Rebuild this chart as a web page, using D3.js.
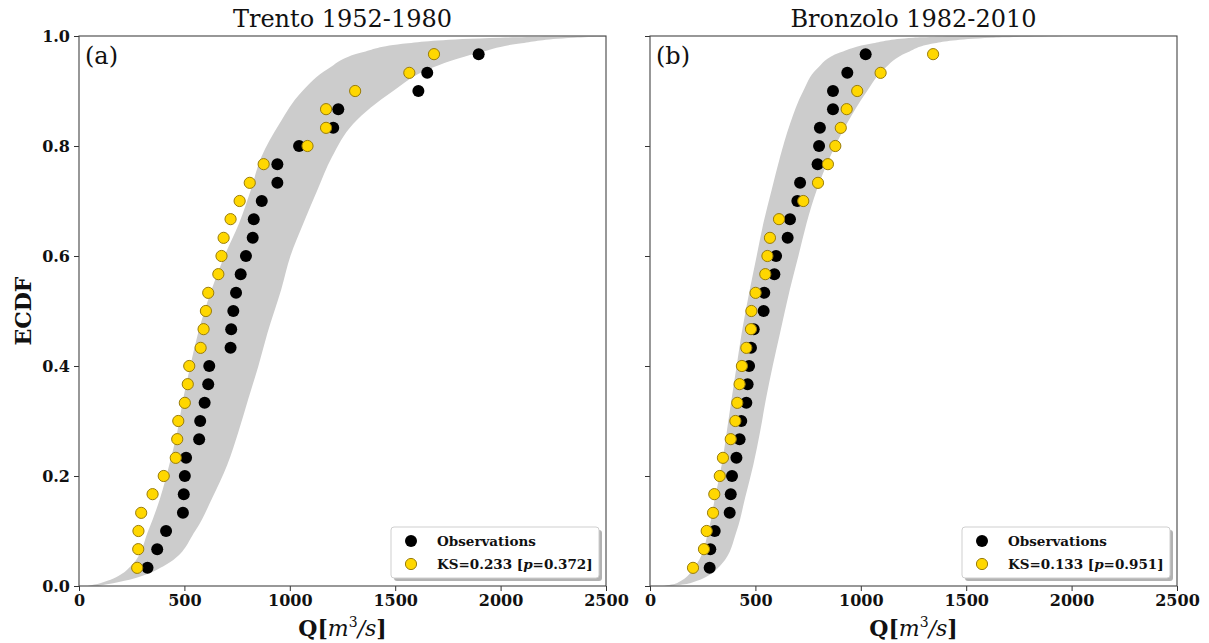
<!DOCTYPE html>
<html lang="en">
<head>
<meta charset="utf-8">
<title>ECDF Trento / Bronzolo</title>
<script src="https://d3js.org/d3.v7.min.js"></script>
<style>
  body { margin: 0; background: #fff; }
  svg text { font-family: "DejaVu Serif", serif; fill: #111; }
</style>
</head>
<body>
<svg id="chart" width="1209" height="643"></svg>
<script>
// ECDF plotting positions
const ecdfLevels = [0.033, 0.067, 0.100, 0.133, 0.167, 0.200, 0.233, 0.267, 0.300, 0.333,
  0.367, 0.400, 0.433, 0.467, 0.500, 0.533, 0.567, 0.600, 0.633, 0.667,
  0.700, 0.733, 0.767, 0.800, 0.833, 0.867, 0.900, 0.933, 0.967];

// panel (a) Trento 1952-1980
const trentoObs = [325, 371, 413, 493, 497, 502, 508, 570, 575, 596, 613, 618, 719, 722, 732,
  745, 767, 792, 824, 829, 867, 941, 941, 1044, 1206, 1230, 1610, 1652, 1896];
const trentoSim = [276, 281, 282, 295, 349, 402, 459, 466, 471, 502, 516, 523, 577, 591, 602,
  613, 661, 676, 686, 719, 762, 810, 876, 1084, 1172, 1172, 1310, 1567, 1684];

// panel (b) Bronzolo 1982-2010
const bronzoloObs = [283, 286, 307, 378, 383, 389, 410, 425, 433, 457, 463, 470, 479, 492, 539,
  542, 590, 598, 653, 664, 699, 712, 795, 802, 806, 868, 868, 936, 1023];
const bronzoloSim = [204, 256, 269, 299, 305, 331, 346, 383, 405, 414, 425, 436, 457, 479, 481,
  501, 547, 557, 569, 612, 727, 797, 844, 879, 905, 933, 983, 1094, 1343];

// grey band edges (Q at given cdf level)
const bandLevels = [0, 0.005, 0.04, 0.1, 0.16, 0.22, 0.28, 0.34, 0.4, 0.46, 0.54, 0.6,
  0.66, 0.72, 0.78, 0.84, 0.9, 0.94, 0.97, 0.987, 0.997, 1.0];
const trentoBandLo = [40, 100, 255, 328, 385, 428, 466, 494, 528, 565, 630, 690,
  760, 815, 865, 950, 1060, 1180, 1340, 1560, 2000, 2500];
const trentoBandHi = [90, 162, 418, 551, 632, 703, 756, 803, 851, 894, 960, 1003,
  1065, 1131, 1200, 1300, 1490, 1660, 1900, 2100, 2350, 2560];
const bronzoloBandLo = [60, 127, 221, 277, 308, 340, 364, 387, 411, 435, 474, 506,
  538, 577, 617, 664, 727, 791, 901, 1058, 1250, 1550];
const bronzoloBandHi = [100, 190, 340, 411, 451, 490, 522, 550, 582, 617, 664, 704,
  743, 791, 854, 933, 1030, 1110, 1220, 1350, 1620, 2000];

const xTicks = [0, 500, 1000, 1500, 2000, 2500];
const yTicks = [0, 0.2, 0.4, 0.6, 0.8, 1.0];

const panels = [
  {title: "Trento 1952-1980", tag: "(a)", obs: trentoObs, sim: trentoSim,
   lo: trentoBandLo, hi: trentoBandHi, ks: "0.233", p: "0.372", left: 79, yLabels: true},
  {title: "Bronzolo 1982-2010", tag: "(b)", obs: bronzoloObs, sim: bronzoloSim,
   lo: bronzoloBandLo, hi: bronzoloBandHi, ks: "0.133", p: "0.951", left: 650, yLabels: false}
];

const plotTop = 36, w = 527, h = 550;
const svg = d3.select("#chart");

const x = d3.scaleLinear().domain([0, 2500]).range([0, w]);
const y = d3.scaleLinear().domain([0, 1]).range([h, 0]);

svg.append("defs").append("clipPath").attr("id", "plotclip")
  .append("rect").attr("width", w).attr("height", h);

panels.forEach(function(pn) {
  const g = svg.append("g").attr("transform", "translate(" + pn.left + "," + plotTop + ")");

  // band
  const band = bandLevels.map((p, i) => ({p: p, lo: pn.lo[i], hi: pn.hi[i]}));
  const area = d3.area()
    .y(d => y(d.p))
    .x0(d => x(d.lo))
    .x1(d => x(d.hi))
    .curve(d3.curveMonotoneY);
  g.append("path").datum(band)
    .attr("d", area)
    .attr("fill", "#cccccc")
    .attr("clip-path", "url(#plotclip)");

  // observations
  g.append("g").selectAll("circle")
    .data(pn.obs).enter().append("circle")
    .attr("cx", d => x(d))
    .attr("cy", (d, i) => y(ecdfLevels[i]))
    .attr("r", 6)
    .attr("fill", "#000");

  // simulated (KS)
  g.append("g").selectAll("circle")
    .data(pn.sim).enter().append("circle")
    .attr("cx", d => x(d))
    .attr("cy", (d, i) => y(ecdfLevels[i]))
    .attr("r", 5.6)
    .attr("fill", "#ffd700")
    .attr("stroke", "#9a7d0a")
    .attr("stroke-width", 1);

  // axes
  const xAxis = d3.axisBottom(x).tickValues(xTicks).tickSize(5).tickPadding(4)
    .tickFormat(d3.format("d"));
  const gx = g.append("g").attr("transform", "translate(0," + h + ")").call(xAxis);
  gx.select(".domain").remove();
  gx.selectAll("line").attr("stroke", "#333");
  gx.selectAll("text").attr("font-size", 16).attr("font-weight", "bold")
    .attr("font-family", "DejaVu Serif").attr("fill", "#111");

  const yAxis = d3.axisLeft(y).tickValues(yTicks).tickSize(5).tickPadding(4)
    .tickFormat(pn.yLabels ? d3.format(".1f") : "");
  const gy = g.append("g").call(yAxis);
  gy.select(".domain").remove();
  gy.selectAll("line").attr("stroke", "#333");
  gy.selectAll("text").attr("font-size", 16).attr("font-weight", "bold")
    .attr("font-family", "DejaVu Serif").attr("fill", "#111");

  // frame
  g.append("rect").attr("width", w).attr("height", h)
    .attr("fill", "none").attr("stroke", "#444").attr("stroke-width", 1.1);

  // title and tag
  g.append("text").attr("x", w / 2).attr("y", -9)
    .attr("text-anchor", "middle").attr("font-size", 24)
    .text(pn.title);
  g.append("text").attr("x", 6).attr("y", 28)
    .attr("font-size", 24).text(pn.tag);

  // x label
  const xl = g.append("text").attr("x", w / 2).attr("y", h + 50)
    .attr("text-anchor", "middle").attr("font-size", 22);
  xl.append("tspan").attr("font-weight", "bold").text("Q[");
  xl.append("tspan").attr("font-style", "italic").text("m");
  xl.append("tspan").attr("font-size", 14).attr("dy", -9).text("3");
  xl.append("tspan").attr("font-style", "italic").attr("dy", 9).text("/s");
  xl.append("tspan").attr("font-weight", "bold").text("]");

  // legend
  const lw = 208, lh = 51;
  const lg = g.append("g").attr("transform", "translate(" + (w - 7 - lw) + "," + (h - 8 - lh) + ")");
  lg.append("rect").attr("x", 3).attr("y", 3).attr("width", lw).attr("height", lh)
    .attr("rx", 3).attr("fill", "#000").attr("opacity", 0.3);
  lg.append("rect").attr("width", lw).attr("height", lh).attr("rx", 3)
    .attr("fill", "#fff").attr("stroke", "#cfcfcf");
  lg.append("circle").attr("cx", 20).attr("cy", 14).attr("r", 6).attr("fill", "#000");
  lg.append("circle").attr("cx", 20).attr("cy", 37).attr("r", 5.6)
    .attr("fill", "#ffd700").attr("stroke", "#9a7d0a");
  lg.append("text").attr("x", 46).attr("y", 18.5).attr("font-size", 13.5)
    .attr("font-weight", "bold").text("Observations");
  const kt = lg.append("text").attr("x", 46).attr("y", 41.5).attr("font-size", 13.5)
    .attr("font-weight", "bold");
  kt.append("tspan").text("KS=" + pn.ks + " [");
  kt.append("tspan").attr("font-style", "italic").text("p");
  kt.append("tspan").text("=" + pn.p + "]");
});

// y label
svg.append("text")
  .attr("transform", "translate(31," + (plotTop + h / 2) + ") rotate(-90)")
  .attr("text-anchor", "middle").attr("font-size", 22).attr("font-weight", "bold")
  .text("ECDF");
</script>
</body>
</html>
